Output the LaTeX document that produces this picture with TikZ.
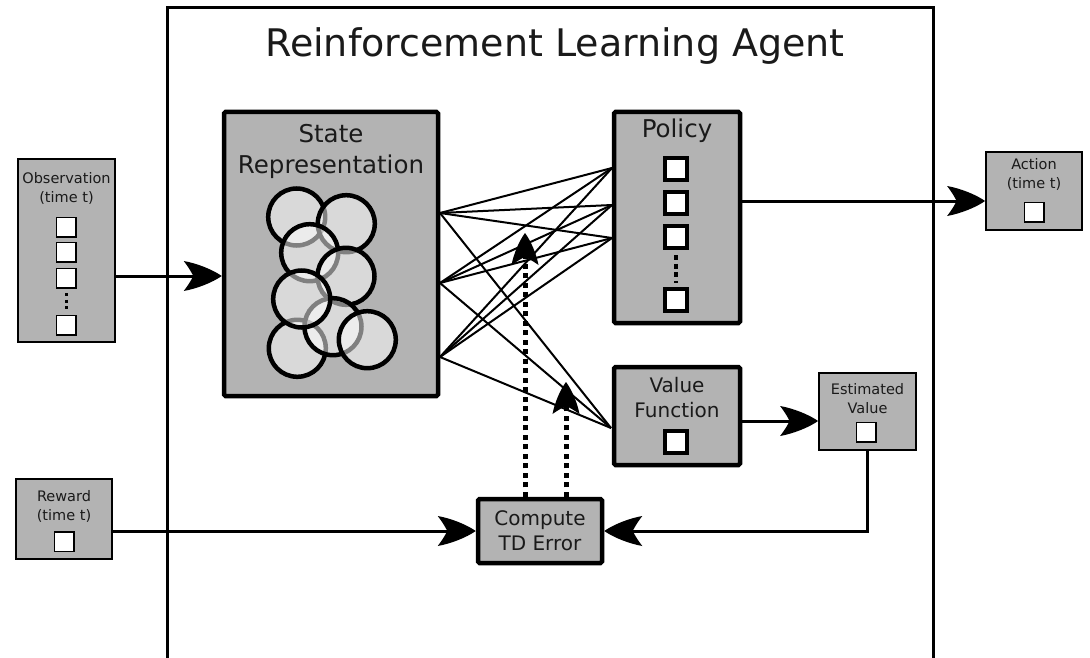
\documentclass[tikz,border=0pt]{standalone}
\usepackage{fontspec}
\setmainfont{DejaVu Sans}
\usetikzlibrary{arrows.meta,calc}
\definecolor{boxgray}{HTML}{B3B3B3}
\definecolor{txt}{HTML}{1A1A1A}
\pgfdeclarearrow{
  name=Inky,
  parameters={\the\pgfarrowlength,\the\pgfarrowwidth},
  setup code={
    \pgfarrowssettipend{0pt}
    \pgfarrowssetbackend{-\pgfarrowlength}
    \pgfarrowssetlineend{-0.6\pgfarrowlength}
    \pgfarrowssetvisualbackend{-0.75\pgfarrowlength}
    \pgfarrowsupperhullpoint{-\pgfarrowlength}{.5\pgfarrowwidth}
    \pgfarrowshullpoint{0pt}{0pt}
    \pgfarrowssavethe\pgfarrowlength
    \pgfarrowssavethe\pgfarrowwidth
  },
  drawing code={
    \pgfpathmoveto{\pgfqpoint{0pt}{0pt}}
    \pgfpathcurveto{\pgfqpoint{-0.25\pgfarrowlength}{0.22\pgfarrowwidth}}{\pgfqpoint{-0.65\pgfarrowlength}{0.42\pgfarrowwidth}}{\pgfqpoint{-\pgfarrowlength}{0.5\pgfarrowwidth}}
    \pgfpathcurveto{\pgfqpoint{-0.85\pgfarrowlength}{0.25\pgfarrowwidth}}{\pgfqpoint{-0.77\pgfarrowlength}{0.06\pgfarrowwidth}}{\pgfqpoint{-0.75\pgfarrowlength}{0pt}}
    \pgfpathcurveto{\pgfqpoint{-0.77\pgfarrowlength}{-0.06\pgfarrowwidth}}{\pgfqpoint{-0.85\pgfarrowlength}{-0.25\pgfarrowwidth}}{\pgfqpoint{-\pgfarrowlength}{-0.5\pgfarrowwidth}}
    \pgfpathcurveto{\pgfqpoint{-0.65\pgfarrowlength}{-0.42\pgfarrowwidth}}{\pgfqpoint{-0.25\pgfarrowlength}{-0.22\pgfarrowwidth}}{\pgfqpoint{0pt}{0pt}}
    \pgfpathclose
    \pgfusepathqfill
  },
  defaults={length=36pt,width=28pt}
}
\begin{document}
\begin{tikzpicture}[x=1pt,y=-1pt,
  big/.style={draw=black, fill=boxgray, line width=4.5pt, inner sep=0pt, rounded corners=1.5pt},
  small/.style={draw=black, fill=boxgray, line width=1.8pt, inner sep=0pt},
  sq/.style={draw=black, fill=white, line width=1.5pt, minimum size=19.5pt, inner sep=0pt},
  bsq/.style={draw=black, fill=white, line width=4.8pt, minimum size=22pt, inner sep=0pt},
  lbl/.style={inner sep=0pt, align=center, text=txt},
  bigfont/.style={font=\fontsize{24.5}{31}\selectfont},
  midfont/.style={font=\fontsize{20}{25}\selectfont},
  smallfont/.style={font=\fontsize{14.5}{19}\selectfont},
  arr/.style={line width=3pt, -{Inky[length=38pt,width=30pt]}},
  fan/.style={line width=2pt},
  dotarr/.style={line width=5pt, dash pattern=on 5pt off 4.5pt, -{Inky[length=32pt,width=27pt]}},
  bubble/.style={draw=black, line width=4.5pt, fill=white, fill opacity=0.5, draw opacity=1},
  dotsv/.style={line width=3pt, dash pattern=on 3pt off 3.5pt},
  bdotsv/.style={line width=4.5pt, dash pattern=on 5pt off 3.5pt}
]
\useasboundingbox (0,0) rectangle (1090,658);
\clip (0,0) rectangle (1090,658);

% agent frame
\draw[line width=3pt] (167,670) -- (167,8) -- (933,8) -- (933,670);
\node[lbl, font=\fontsize{38}{44}\selectfont] (title) at (555,46) {Reinforcement Learning Agent};

% state representation
\node[big, minimum width=214pt, minimum height=284pt] (st) at (331,254) {};
\node[lbl, bigfont] (stl) at (331,151) {State\\Representation};
\draw[bubble] (296.7,217) circle[radius=28.5pt];
\draw[bubble] (346.3,223.7) circle[radius=28.5pt];
\draw[bubble] (309.7,252.7) circle[radius=28.5pt];
\draw[bubble] (346,276.3) circle[radius=28.5pt];
\draw[bubble] (297.3,348.3) circle[radius=28.5pt];
\draw[bubble] (333,326.7) circle[radius=28.5pt];
\draw[bubble] (301.7,299) circle[radius=28.5pt];
\draw[bubble] (367.3,339.7) circle[radius=28.5pt];

% policy
\node[big, minimum width=126pt, minimum height=211pt] (pol) at (677,217.5) {};
\node[lbl, bigfont] (poll) at (677,131) {Policy};
\node[bsq] (pq1) at (676,169) {};
\node[bsq] (pq2) at (676,203) {};
\node[bsq] (pq3) at (676,237) {};
\node[bsq] (pq4) at (676,300) {};
\draw[bdotsv] (pq3.south) ++(0,5) -- (676,283);

% value function
\node[big, minimum width=126pt, minimum height=98pt] (val) at (677,416) {};
\node[lbl, midfont] (vall) at (677,398) {Value\\Function};
\node[bsq] (vq) at (676,442) {};

% compute TD error
\node[big, minimum width=124pt, minimum height=64pt] (td) at (540,531) {};
\node[lbl, midfont] (tdl) at (540,531) {Compute\\TD Error};

% observation
\node[small, minimum width=97pt, minimum height=183pt] (obs) at (66.5,250.5) {};
\node[lbl, smallfont] (obsl) at (66.5,188) {Observation\\(time t)};
\node[sq] (oq1) at (66,227) {};
\node[sq] (oq2) at (66,252) {};
\node[sq] (oq3) at (66,278) {};
\node[sq] (oq4) at (66,325) {};
\draw[dotsv] (66,293) -- (66,312);

% reward
\node[small, minimum width=96pt, minimum height=80pt] (rew) at (64,519) {};
\node[lbl, smallfont] (rewl) at (64,506) {Reward\\(time t)};
\node[sq] (rq) at (64,541.5) {};

% action
\node[small, minimum width=96pt, minimum height=78pt] (act) at (1034,191) {};
\node[lbl, smallfont] (actl) at (1034,174) {Action\\(time t)};
\node[sq] (aq) at (1034,212) {};

% estimated value
\node[small, minimum width=97pt, minimum height=77pt] (est) at (867.5,411.5) {};
\node[lbl, smallfont] (estl) at (867.5,399) {Estimated\\Value};
\node[sq] (eq) at (866,432) {};

% fan connections
\coordinate (s1) at (440,213);
\coordinate (s2) at (440,283);
\coordinate (s3) at (440,357);
\coordinate (p1) at (612,168);
\coordinate (p2) at (612,205);
\coordinate (p3) at (612,238);
\coordinate (v1) at (611,428);
\foreach \s in {s1,s2,s3}{
  \foreach \p in {p1,p2,p3,v1}{
    \draw[fan] (\s) -- (\p);
  }
}

% dotted TD arrows
\coordinate (d1) at (525,233);
\coordinate (d2) at (566,382);
\draw[dotarr] (td.north -| d1) -- (d1);
\draw[dotarr] (td.north -| d2) -- (d2);

% main arrows
\draw[arr] (obs.east |- 0,276) -- (st.west |- 0,276);
\draw[arr] (pol.east |- 0,201) -- (act.west |- 0,201);
\draw[arr] (val.east |- 0,421) -- (est.west |- 0,421);
\draw[arr] (rew.east |- td.west) -- (td.west);
\draw[arr] (est.south) |- (td.east);
\end{tikzpicture}
\end{document}
